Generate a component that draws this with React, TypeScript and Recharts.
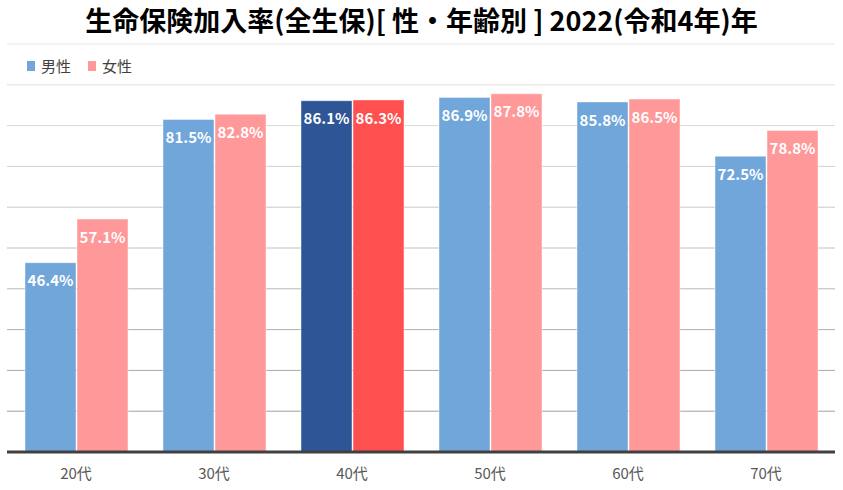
import React from "react";
import { BarChart, Bar, XAxis, YAxis, CartesianGrid, Cell, LabelList } from "recharts";

const categories = ["20代", "30代", "40代", "50代", "60代", "70代"];
const maleValues = [46.4, 81.5, 86.1, 86.9, 85.8, 72.5];
const femaleValues = [57.1, 82.8, 86.3, 87.8, 86.5, 78.8];
const yTicks = [0, 10, 20, 30, 40, 50, 60, 70, 80, 90, 100];
const highlightCategory = "40代";
const seriesNames = ["男性", "女性"];

const data = categories.map((c, i) => ({ name: c, male: maleValues[i], female: femaleValues[i] }));

const MALE = "#70A6DA";
const MALE_HI = "#2E5595";
const FEMALE = "#FF9898";
const FEMALE_HI = "#FF5050";
const FONT = "'Noto Sans CJK JP', 'Noto Sans', sans-serif";

const gridLine = (props: any) => {
  const { x1, x2, y1, y2, key, index } = props;
  const top = 44;
  const bottom = 452;
  const t = Math.max(0, Math.min(1, (y1 - top) / (bottom - top)));
  const c = Math.round(232 - t * 80);
  if (y1 >= bottom - 2) return <g key={key ?? index} />;
  return <line key={key ?? index} x1={x1} x2={x2} y1={y1} y2={y2} stroke={`rgb(${c},${c},${c})`} strokeWidth={1} />;
};

const fmt = (v: any) => `${Number(v).toFixed(1)}%`;

export default function App() {
  return (
    <div style={{ position: "absolute", left: 0, top: 0, width: 843, height: 490, background: "#fff", fontFamily: FONT }}>
      <div style={{ position: "absolute", left: 0, top: 2, width: 843, textAlign: "center", fontSize: 27, fontWeight: 700, color: "#000", lineHeight: "36px", whiteSpace: "nowrap" }}>
        生命保険加入率(全生保)[ 性・年齢別 ] 2022(令和4年)年
      </div>
      <div style={{ position: "absolute", left: 27, top: 55, display: "flex", alignItems: "center", fontSize: 15, color: "#404040" }}>
        <span style={{ display: "inline-block", width: 8, height: 10, background: MALE, marginRight: 6 }} />
        <span style={{ marginRight: 17 }}>{seriesNames[0]}</span>
        <span style={{ display: "inline-block", width: 8, height: 10, background: FEMALE, marginRight: 6 }} />
        <span>{seriesNames[1]}</span>
      </div>
      <BarChart width={843} height={490} data={data} margin={{ top: 44, right: 8, bottom: 0, left: 7 }} barGap={1} barSize={51}>
        <CartesianGrid vertical={false} horizontal={gridLine} />
        <YAxis hide domain={[0, 100]} ticks={yTicks} />
        <XAxis dataKey="name" height={38} tickLine={false} axisLine={{ stroke: "#404040", strokeWidth: 3 }}
          tick={{ fill: "#595959", fontSize: 15, fontFamily: FONT }} dy={8} />
        <Bar dataKey="male" name={seriesNames[0]} isAnimationActive={false} stroke="rgba(255,255,255,0.45)" strokeWidth={1}>
          {data.map((d) => (
            <Cell key={d.name} fill={d.name === highlightCategory ? MALE_HI : MALE} />
          ))}
          <LabelList dataKey="male" position="insideTop" offset={13} formatter={fmt}
            style={{ fill: "#fff", fontSize: 15, fontWeight: 700, fontFamily: FONT }} />
        </Bar>
        <Bar dataKey="female" name={seriesNames[1]} isAnimationActive={false} stroke="rgba(255,255,255,0.45)" strokeWidth={1}>
          {data.map((d) => (
            <Cell key={d.name} fill={d.name === highlightCategory ? FEMALE_HI : FEMALE} />
          ))}
          <LabelList dataKey="female" position="insideTop" offset={13} formatter={fmt}
            style={{ fill: "#fff", fontSize: 15, fontWeight: 700, fontFamily: FONT }} />
        </Bar>
      </BarChart>
    </div>
  );
}
